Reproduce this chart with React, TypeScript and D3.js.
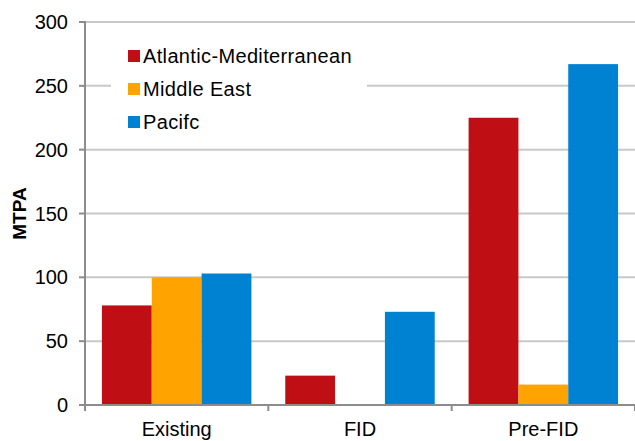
import React from "react";
import * as d3 from "d3";

const categories = ["Existing", "FID", "Pre-FID"];
const seriesNames = ["Atlantic-Mediterranean", "Middle East", "Pacifc"];
const atlanticMed = [78, 23, 225];
const middleEast = [100, 0, 16];
const pacific = [103, 73, 267];
const yTicks = [0, 50, 100, 150, 200, 250, 300];
const colors = ["#C00F14", "#FFA300", "#0082D3"];

const W = 635;
const H = 441;
const M = { left: 85, right: 635, top: 22, bottom: 405 };

export default function App() {
  const series = [atlanticMed, middleEast, pacific];
  const x = d3.scaleBand<string>().domain(categories).range([M.left, M.right]).paddingInner(0).paddingOuter(0);
  const inner = d3
    .scaleBand<number>()
    .domain([0, 1, 2])
    .range([0, x.bandwidth()])
    .paddingInner(0)
    .paddingOuter(0.34);
  const y = d3.scaleLinear().domain([0, 300]).range([M.bottom, M.top]);
  const font = "Arial, 'Liberation Sans', sans-serif";
  const catTicks = categories.map((c) => x(c)!).concat([M.right]);

  return (
    <svg width={W} height={H} style={{ position: "absolute", left: 0, top: 0, background: "#fff" }}>
      {yTicks.map((t) =>
        t === 0 ? null : (
          <line key={"g" + t} x1={M.left} x2={M.right} y1={y(t)} y2={y(t)} stroke="#C8C8C8" strokeWidth={2} />
        )
      )}
      {series.map((vals, si) =>
        categories.map((c, ci) =>
          vals[ci] > 0 ? (
            <rect
              key={si + "-" + ci}
              x={x(c)! + inner(si)!}
              y={y(vals[ci])}
              width={inner.bandwidth()}
              height={y(0) - y(vals[ci])}
              fill={colors[si]}
            />
          ) : null
        )
      )}
      <line x1={M.left} x2={M.left} y1={M.top - 1} y2={M.bottom} stroke="#8C8C8C" strokeWidth={2} />
      <line x1={M.left} x2={M.right} y1={M.bottom} y2={M.bottom} stroke="#8C8C8C" strokeWidth={2} />
      {yTicks.map((t) => (
        <g key={"t" + t}>
          <line x1={M.left - 6} x2={M.left} y1={y(t)} y2={y(t)} stroke="#8C8C8C" strokeWidth={2} />
          <text x={68} y={y(t)} dy="0.35em" textAnchor="end" fontFamily={font} fontSize={20} fill="#000">
            {t}
          </text>
        </g>
      ))}
      {catTicks.map((cx, i) => (
        <line key={"c" + i} x1={cx} x2={cx} y1={M.bottom} y2={M.bottom + 6} stroke="#8C8C8C" strokeWidth={2} />
      ))}
      {categories.map((c) => (
        <text
          key={"l" + c}
          x={x(c)! + x.bandwidth() / 2}
          y={436}
          textAnchor="middle"
          fontFamily={font}
          fontSize={20}
          fill="#000"
        >
          {c}
        </text>
      ))}
      <text
        transform={`translate(26, ${(M.top + M.bottom) / 2}) rotate(-90)`}
        textAnchor="middle"
        fontFamily={font}
        fontSize={19}
        fontWeight="bold"
        fill="#000"
      >
        MTPA
      </text>
      <rect x={111} y={32} width={256} height={108} fill="#fff" />
      {seriesNames.map((n, i) => (
        <g key={"lg" + i} transform={`translate(128, ${56 + i * 33})`}>
          <rect x={0} y={-6} width={12} height={12} fill={colors[i]} />
          <text x={15} y={0} dy="0.35em" fontFamily={font} fontSize={20} letterSpacing={0.35} fill="#000">
            {n}
          </text>
        </g>
      ))}
    </svg>
  );
}
